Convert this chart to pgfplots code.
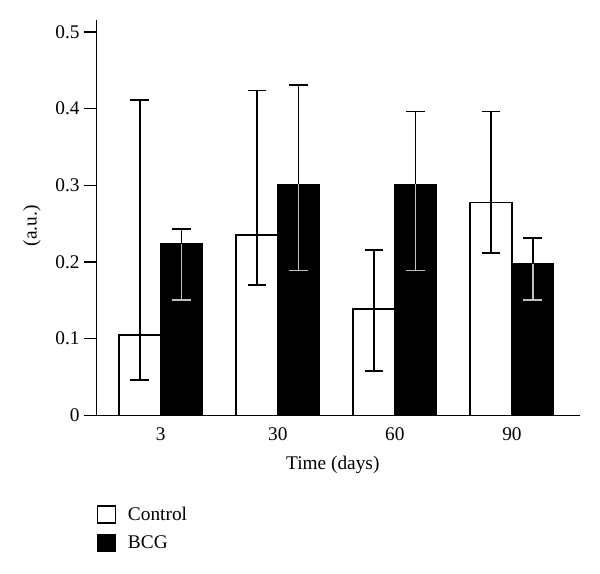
\documentclass[border=0pt]{standalone}
\usepackage{pgfplots}
\pgfplotsset{compat=1.18}
\usepackage{fontspec}
\setmainfont{Liberation Serif}
\begin{document}
\begin{tikzpicture}
\useasboundingbox (-72.2pt,-118.3pt) rectangle (377.8pt,311.5pt);
\begin{axis}[
  at={(0,0)}, anchor=south west,
  scale only axis, width=362.8pt, height=296.5pt,
  xmin=-0.55, xmax=3.581, ymin=0, ymax=0.5155,
  axis x line*=bottom, axis y line*=left,
  axis line style={line width=1.1pt},
  xtick={0,1,2,3}, xticklabels={3,30,60,90},
  x tick style={draw=none},
  xticklabel style={yshift=3pt},
  ytick={0,0.1,0.2,0.3,0.4,0.5},
  yticklabel style={/pgf/number format/.cd, fixed, precision=1},
  /pgf/number format/assume math mode=true,
  tick align=outside, major tick length=9pt,
  y tick style={line width=1.1pt, black},
  tick label style={font=\fontsize{14.5}{17}\selectfont},
  label style={font=\fontsize{14.5}{17}\selectfont},
  xlabel={Time (days)},
  ylabel={(a.u.)},
  xlabel style={at={(axis description cs:0.489,-0.125)}, anchor=center},
  ylabel style={at={(axis description cs:-0.133,0.479)}, anchor=center},
  legend style={at={(axis description cs:0,-0.224)}, anchor=north west, draw=none,
    inner sep=0pt, font=\fontsize{14.5}{17}\selectfont, cells={anchor=west}, row sep=6pt,
    /tikz/every odd column/.append style={column sep=7pt}},
]
\addplot[ybar, bar width=0.357, bar shift=0pt, fill=white, draw=black, line width=1.1pt,
  legend image code/.code={\draw[fill=white, draw=black, line width=1.1pt] (0pt,-6.5pt) rectangle (13.5pt,6.5pt);}]
  coordinates {(-0.178,0.1047) (0.822,0.235) (1.822,0.1386) (2.822,0.2777)};
\addlegendentry{Control}
\addplot[ybar, bar width=0.357, bar shift=0pt, fill=black, draw=black, line width=1.1pt,
  legend image code/.code={\draw[fill=black, draw=black, line width=1.1pt] (0pt,-6.5pt) rectangle (13.5pt,6.5pt);}]
  coordinates {(0.178,0.2237) (1.178,0.301) (2.178,0.301) (3.178,0.1973)};
\addlegendentry{BCG}
% Control error bars
\addplot[draw=none, mark=none, forget plot,
  error bars/.cd, y dir=both, y explicit,
  error bar style={draw=black, line width=1.1pt},
  error mark options={draw=black, line width=1.3pt, mark size=7pt, rotate=90}]
  coordinates {
  (-0.178,0.1047) += (0,0.3068) -= (0,0.0583)
  (0.822,0.235) += (0,0.1887) -= (0,0.0655)
  (1.822,0.1386) += (0,0.0774) -= (0,0.0806)
  (2.822,0.2777) += (0,0.1186) -= (0,0.0661)
  };
% BCG lower (inside bar)
\addplot[draw=none, mark=none, forget plot,
  error bars/.cd, y dir=minus, y explicit,
  error bar style={draw=black!25, line width=1.1pt},
  error mark options={draw=black!25, line width=1.3pt, mark size=7pt, rotate=90}]
  coordinates {
  (0.178,0.2237) -= (0,0.0737)
  (1.178,0.301) -= (0,0.112)
  (2.178,0.301) -= (0,0.112)
  (3.178,0.1973) -= (0,0.0473)
  };
% BCG upper
\addplot[draw=none, mark=none, forget plot,
  error bars/.cd, y dir=plus, y explicit,
  error bar style={draw=black, line width=1.1pt},
  error mark options={draw=black, line width=1.3pt, mark size=7pt, rotate=90}]
  coordinates {
  (0.178,0.2237) += (0,0.0188)
  (1.178,0.301) += (0,0.1296)
  (2.178,0.301) += (0,0.0953)
  (3.178,0.1973) += (0,0.0335)
  };
\end{axis}
\end{tikzpicture}
\end{document}
